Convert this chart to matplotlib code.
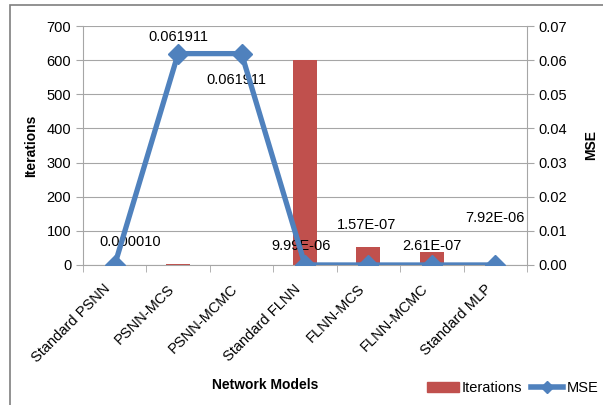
import matplotlib.pyplot as plt
from matplotlib.lines import Line2D
from matplotlib.patches import Patch
from matplotlib.transforms import ScaledTranslation
import numpy as np

plt.rcParams['font.family'] = ['Liberation Sans', 'DejaVu Sans']

models = ['Standard PSNN', 'PSNN-MCS', 'PSNN-MCMC', 'Standard FLNN',
          'FLNN-MCS', 'FLNN-MCMC', 'Standard MLP']
iterations = [0, 3, 1, 600, 54, 38, 0]
mse = [0.000010, 0.061911, 0.061911, 9.99e-06, 1.57e-07, 2.61e-07, 7.92e-06]
mse_labels = ['0.000010', '0.061911', '0.061911', '9.99E-06',
              '1.57E-07', '2.61E-07', '7.92E-06']

red = '#C0504D'
blue = '#4F81BD'
grid = '#A6A6A6'

fig = plt.figure(figsize=(6.03, 4.05), dpi=100)
ax = fig.add_axes([0.1376, 0.3457, 0.7364, 0.5901])
x = np.arange(len(models))

ax.bar(x, iterations, width=0.38, color=red, zorder=2)
ax.set_xlim(-0.5, len(models) - 0.5)
ax.set_ylim(0, 700)
ax.set_yticks(range(0, 701, 100))
ax.yaxis.grid(True, color=grid, lw=0.8, zorder=0)
ax.set_axisbelow(True)
ax.set_ylabel('Iterations', fontweight='bold', fontsize=10, labelpad=6)

ax.set_xticks(x)
ax.set_xticklabels(models, rotation=45, ha='right', rotation_mode='anchor', fontsize=10.5)
ax.tick_params(axis='x', length=0, pad=12)
for lab in ax.get_xticklabels():
    lab.set_transform(lab.get_transform() + ScaledTranslation(-8 / 72, 0, fig.dpi_scale_trans))
ax.set_xticks(np.arange(-0.5, len(models)), minor=True)
ax.tick_params(axis='x', which='minor', length=5, color=grid)
ax.tick_params(axis='y', length=5, color=grid, labelsize=10.5)
for s in ['top', 'right']:
    ax.spines[s].set_visible(False)
ax.spines['left'].set_color(grid)
ax.spines['bottom'].set_color(grid)

ax2 = ax.twinx()
ax2.plot(x, mse, color=blue, lw=3.8, marker='D', ms=10, zorder=3)
ax2.set_ylim(0, 0.07)
ax2.set_yticks(np.arange(0, 0.0701, 0.01))
ax2.set_yticklabels(['%.2f' % v for v in np.arange(0, 0.0701, 0.01)])
ax2.tick_params(axis='y', length=5, color=grid, labelsize=10.5)
ax2.set_ylabel('MSE', fontweight='bold', fontsize=10, labelpad=12)
for s in ['top', 'left', 'bottom']:
    ax2.spines[s].set_visible(False)
ax2.spines['right'].set_color(grid)

offsets = [(11, 16.5), (0, 12), (-3.6, -19), (-3, 14), (-1.5, 29), (0, 14), (0, 34)]
for xi, yi, lab, off in zip(x, mse, mse_labels, offsets):
    ax2.annotate(lab, (xi, yi), xytext=off, textcoords='offset points',
                 ha='center', va='center', fontsize=10.5, zorder=2)

fig.text(265 / 603, 1 - 385 / 405, 'Network Models', fontweight='bold', fontsize=10,
         ha='center', va='center')

handles = [Patch(color=red), Line2D([0], [0], color=blue, lw=4, marker='D', ms=6)]
fig.legend(handles, ['Iterations', 'MSE'], loc='center', bbox_to_anchor=(0.85, 0.042),
           ncol=2, frameon=False, fontsize=10.5, handlelength=2.2, columnspacing=0.6,
           handletextpad=0.2)

fig.patches.append(plt.Rectangle((10 / 603, -0.1), 1.0, 1 - 5 / 405 + 0.1,
                                 transform=fig.transFigure, fill=False,
                                 edgecolor='#7F7F7F', lw=1.2))

fig.savefig('out.png', dpi=100)
